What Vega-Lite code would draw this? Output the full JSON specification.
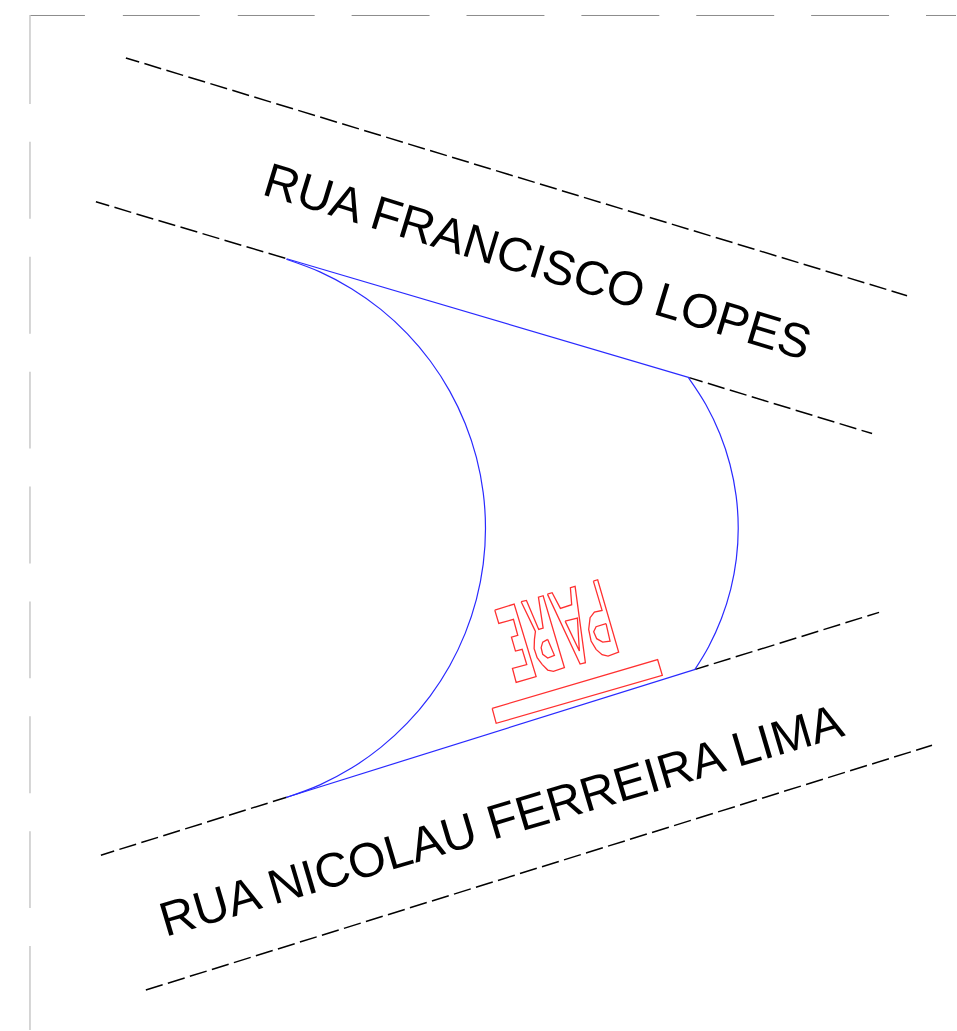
{"$schema":"https://vega.github.io/schema/vega-lite/v6.json","width":957,"height":1031,"autosize":{"type":"fit","contains":"padding"},"padding":0,"background":"white","view":{"stroke":null},"config":{"axis":{"domain":false,"grid":false,"ticks":false,"labels":false,"title":null}},
"encoding":{},
"layer":[
{"data":{"values":[{"x":30,"x2":85},{"x":123,"x2":200},{"x":238,"x2":315},{"x":352,"x2":430},{"x":467,"x2":545},{"x":582,"x2":660},{"x":697,"x2":775},{"x":812,"x2":890},{"x":927,"x2":957}]},"mark":{"type":"rule","color":"#8c8c8c","strokeWidth":1},"encoding":{"x":{"field":"x","type":"quantitative","scale":{"domain":[0,957]},"axis":null},"x2":{"field":"x2"},"y":{"datum":15.5,"type":"quantitative","scale":{"domain":[1031,0]},"axis":null}}},
{"data":{"values":[{"y":15,"y2":104},{"y":142,"y2":219},{"y":257,"y2":334},{"y":372,"y2":449},{"y":487,"y2":564},{"y":602,"y2":679},{"y":717,"y2":794},{"y":832,"y2":909},{"y":947,"y2":1031}]},"mark":{"type":"rule","color":"#c8c8c8","strokeWidth":1.5},"encoding":{"y":{"field":"y","type":"quantitative","scale":{"domain":[1031,0]},"axis":null},"y2":{"field":"y2"},"x":{"datum":30,"type":"quantitative","scale":{"domain":[0,957]},"axis":null}}},
{"data":{"values":[{"p":"a","i":0,"x":126,"y":58},{"p":"a","i":1,"x":908,"y":296},{"p":"b","i":0,"x":96,"y":202},{"p":"b","i":1,"x":287,"y":259},{"p":"c","i":0,"x":690,"y":378},{"p":"c","i":1,"x":873,"y":434},{"p":"d","i":0,"x":101,"y":856},{"p":"d","i":1,"x":287,"y":798},{"p":"e","i":0,"x":696,"y":670},{"p":"e","i":1,"x":880,"y":613}]},"mark":{"type":"line","color":"#000000","strokeWidth":1.5,"strokeDash":[17.5,5.47],"strokeDashOffset":3.6},"encoding":{"x":{"field":"x","type":"quantitative","scale":{"domain":[0,957]},"axis":null},"y":{"field":"y","type":"quantitative","scale":{"domain":[1031,0]},"axis":null},"detail":{"field":"p"},"order":{"field":"i"}}},
{"data":{"values":[{"p":"f","i":0,"x":146,"y":991},{"p":"f","i":1,"x":933,"y":746}]},"mark":{"type":"line","color":"#000000","strokeWidth":1.5,"strokeDash":[17.6,5.45]},"encoding":{"x":{"field":"x","type":"quantitative","scale":{"domain":[0,957]},"axis":null},"y":{"field":"y","type":"quantitative","scale":{"domain":[1031,0]},"axis":null},"detail":{"field":"p"},"order":{"field":"i"}}},
{"data":{"values":[{"p":"t","i":0,"x":287,"y":259},{"p":"t","i":1,"x":690,"y":378},{"p":"u","i":0,"x":287,"y":798},{"p":"u","i":1,"x":696,"y":670}]},"mark":{"type":"line","color":"#2a2aff","strokeWidth":1.2},"encoding":{"x":{"field":"x","type":"quantitative","scale":{"domain":[0,957]},"axis":null},"y":{"field":"y","type":"quantitative","scale":{"domain":[1031,0]},"axis":null},"detail":{"field":"p"},"order":{"field":"i"}}},
{"data":{"values":[{"p":"l","i":0,"x":286.66,"y":259.51},{"p":"l","i":1,"x":320.22,"y":272.16},{"p":"l","i":2,"x":351.91,"y":288.97},{"p":"l","i":3,"x":381.2,"y":309.67},{"p":"l","i":4,"x":407.62,"y":333.92},{"p":"l","i":5,"x":430.75,"y":361.34},{"p":"l","i":6,"x":450.2,"y":391.47},{"p":"l","i":7,"x":465.67,"y":423.83},{"p":"l","i":8,"x":476.9,"y":457.89},{"p":"l","i":9,"x":483.72,"y":493.11},{"p":"l","i":10,"x":486,"y":528.9},{"p":"l","i":11,"x":483.72,"y":564.69},{"p":"l","i":12,"x":476.9,"y":599.91},{"p":"l","i":13,"x":465.67,"y":633.97},{"p":"l","i":14,"x":450.2,"y":666.33},{"p":"l","i":15,"x":430.75,"y":696.46},{"p":"l","i":16,"x":407.62,"y":723.88},{"p":"l","i":17,"x":381.2,"y":748.13},{"p":"l","i":18,"x":351.91,"y":768.83},{"p":"l","i":19,"x":320.22,"y":785.64},{"p":"l","i":20,"x":286.66,"y":798.29},
{"p":"r","i":0,"x":689.3,"y":378.3},{"p":"r","i":1,"x":706.7,"y":405.2},{"p":"r","i":2,"x":720.6,"y":434.2},{"p":"r","i":3,"x":730.7,"y":464.7},{"p":"r","i":4,"x":736.9,"y":496.4},{"p":"r","i":5,"x":739,"y":528.67},{"p":"r","i":6,"x":737.1,"y":559.4},{"p":"r","i":7,"x":731.5,"y":589.7},{"p":"r","i":8,"x":722.2,"y":619.1},{"p":"r","i":9,"x":709.5,"y":647.1},{"p":"r","i":10,"x":695.7,"y":670}]},"mark":{"type":"line","color":"#2a2aff","strokeWidth":1.2,"interpolate":"catmull-rom"},"encoding":{"x":{"field":"x","type":"quantitative","scale":{"domain":[0,957]},"axis":null},"y":{"field":"y","type":"quantitative","scale":{"domain":[1031,0]},"axis":null},"detail":{"field":"p"},"order":{"field":"i"}}},
{"data":{"values":[
{"p":"E","i":0,"x":495.3,"y":610.7},{"p":"E","i":1,"x":514.7,"y":604.7},{"p":"E","i":2,"x":536.7,"y":677.3},{"p":"E","i":3,"x":516.7,"y":683},{"p":"E","i":4,"x":513,"y":669},{"p":"E","i":5,"x":527.3,"y":665.3},{"p":"E","i":6,"x":522.7,"y":650},{"p":"E","i":7,"x":516,"y":651.7},{"p":"E","i":8,"x":512,"y":637.7},{"p":"E","i":9,"x":518.3,"y":636},{"p":"E","i":10,"x":514,"y":620},{"p":"E","i":11,"x":499.3,"y":624},{"p":"E","i":12,"x":495.3,"y":610.7},
{"p":"R","i":0,"x":521.7,"y":602.3},{"p":"R","i":1,"x":527,"y":601},{"p":"R","i":2,"x":539.3,"y":630},{"p":"R","i":3,"x":543.7,"y":628.7},{"p":"R","i":4,"x":539,"y":597.7},{"p":"R","i":5,"x":543.7,"y":596.3},{"p":"R","i":6,"x":565,"y":668.3},{"p":"R","i":7,"x":554,"y":672},{"p":"R","i":8,"x":548.3,"y":670.7},{"p":"R","i":9,"x":542.7,"y":665},{"p":"R","i":10,"x":537.7,"y":658.3},{"p":"R","i":11,"x":534.7,"y":649.3},{"p":"R","i":12,"x":535,"y":640},{"p":"R","i":13,"x":536,"y":632},{"p":"R","i":14,"x":521.7,"y":602.3},
{"p":"Ri","i":0,"x":548.3,"y":640},{"p":"Ri","i":1,"x":555,"y":656},{"p":"Ri","i":2,"x":548.3,"y":658.7},{"p":"Ri","i":3,"x":543.3,"y":655},{"p":"Ri","i":4,"x":541.7,"y":648.3},{"p":"Ri","i":5,"x":543.3,"y":642.7},{"p":"Ri","i":6,"x":548.3,"y":640},
{"p":"A","i":0,"x":548,"y":594.7},{"p":"A","i":1,"x":552.7,"y":593.3},{"p":"A","i":2,"x":561,"y":609},{"p":"A","i":3,"x":572.3,"y":605.3},{"p":"A","i":4,"x":571,"y":588.3},{"p":"A","i":5,"x":575.7,"y":587},{"p":"A","i":6,"x":586,"y":663.3},{"p":"A","i":7,"x":580.7,"y":664.7},{"p":"A","i":8,"x":548,"y":594.7},
{"p":"Ai","i":0,"x":565.7,"y":621.7},{"p":"Ai","i":1,"x":578,"y":618.7},{"p":"Ai","i":2,"x":580,"y":651.7},{"p":"Ai","i":3,"x":565.7,"y":621.7},
{"p":"P","i":0,"x":594,"y":581.7},{"p":"P","i":1,"x":598.3,"y":580.3},{"p":"P","i":2,"x":619.3,"y":652.7},{"p":"P","i":3,"x":608.7,"y":656.7},{"p":"P","i":4,"x":602.7,"y":655.3},{"p":"P","i":5,"x":596.7,"y":650},{"p":"P","i":6,"x":591.7,"y":641.7},{"p":"P","i":7,"x":589.3,"y":630},{"p":"P","i":8,"x":590.7,"y":618.3},{"p":"P","i":9,"x":595,"y":612.7},{"p":"P","i":10,"x":602.7,"y":611},{"p":"P","i":11,"x":594,"y":581.7},
{"p":"Pi","i":0,"x":606.7,"y":624.3},{"p":"Pi","i":1,"x":610.7,"y":641.7},{"p":"Pi","i":2,"x":603.3,"y":642.7},{"p":"Pi","i":3,"x":597.3,"y":639.3},{"p":"Pi","i":4,"x":594.3,"y":632.3},{"p":"Pi","i":5,"x":596.7,"y":627.3},{"p":"Pi","i":6,"x":606.7,"y":624.3},
{"p":"bar","i":0,"x":492.7,"y":709},{"p":"bar","i":1,"x":658.3,"y":660.3},{"p":"bar","i":2,"x":663,"y":676},{"p":"bar","i":3,"x":496.7,"y":724},{"p":"bar","i":4,"x":492.7,"y":709}
]},"mark":{"type":"line","color":"#ff3030","strokeWidth":1.3},"encoding":{"x":{"field":"x","type":"quantitative","scale":{"domain":[0,957]},"axis":null},"y":{"field":"y","type":"quantitative","scale":{"domain":[1031,0]},"axis":null},"detail":{"field":"p"},"order":{"field":"i"}}},
{"data":{"values":[{"label":"RUA FRANCISCO LOPES","x":537.5,"y":264}]},"mark":{"type":"text","font":"Liberation Sans","fontSize":48.1,"angle":17,"align":"center","baseline":"middle","color":"#000000"},"encoding":{"x":{"field":"x","type":"quantitative","scale":{"domain":[0,957]},"axis":null},"y":{"field":"y","type":"quantitative","scale":{"domain":[1031,0]},"axis":null},"text":{"field":"label"}}},
{"data":{"values":[{"label":"RUA NICOLAU FERREIRA LIMA","x":502,"y":822.5}]},"mark":{"type":"text","font":"Liberation Sans","fontSize":48.4,"angle":343.5,"align":"center","baseline":"middle","color":"#000000"},"encoding":{"x":{"field":"x","type":"quantitative","scale":{"domain":[0,957]},"axis":null},"y":{"field":"y","type":"quantitative","scale":{"domain":[1031,0]},"axis":null},"text":{"field":"label"}}}
]}
